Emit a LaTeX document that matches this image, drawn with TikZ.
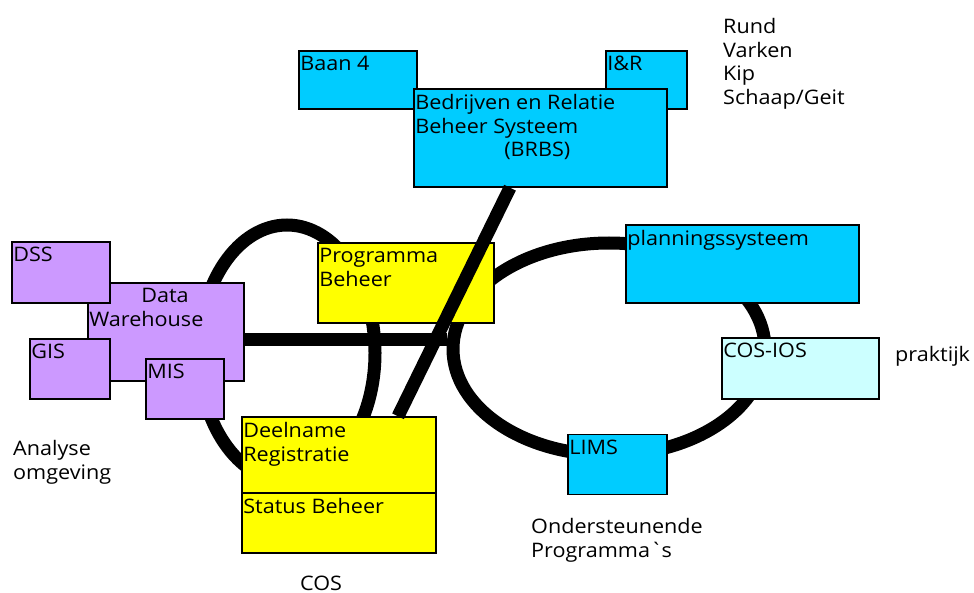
\documentclass[tikz,border=0pt]{standalone}
\usepackage{fontspec}
\setmainfont{Open Sans}[FakeStretch=1.08]
\usetikzlibrary{shapes.geometric}
\definecolor{brsblauw}{HTML}{00CCFF}
\definecolor{dwhpaars}{HTML}{CC99FF}
\definecolor{cosgeel}{HTML}{FFFF00}
\definecolor{iosblauw}{HTML}{CCFFFF}
\begin{document}
\begin{tikzpicture}[x=1pt,y=-1pt,
        every node/.style={font=\fontsize{20}{23.7}\selectfont},
        blok/.style={draw,line width=1.4pt,inner sep=0pt},
        lbl/.style={anchor=north west,align=left,inner xsep=2pt,inner ysep=6pt,outer sep=0pt},
        ring/.style={draw,ellipse,line width=13pt,inner sep=0pt},
        bus/.style={line width=13pt},
        tekst/.style={anchor=north west,align=left,inner sep=0pt},
        ]
    \useasboundingbox (0,0) rectangle (974,593);
    % de twee ringen
    \node (ringcos) [ring, minimum width=176, minimum height=256] at (287,353) {};
    \node (ringop) [ring, minimum width=312, minimum height=212] at (609,349) {};
    % BRBS
    \node (baan) [blok, fill=brsblauw, minimum width=118, minimum height=58, label={[lbl]north west:{Baan 4}}] at (358,80) {};
    \node (ir) [blok, fill=brsblauw, minimum width=81, minimum height=58, label={[lbl]north west:{I\&R}}] at (646.5,80) {};
    \node (brbs) [blok, fill=brsblauw, minimum width=253, minimum height=98,
        label={[lbl]north west:{Bedrijven en Relatie\\Beheer Systeem\\\hspace*{89pt}(BRBS)}}] at (540.5,138) {};
    % analyse omgeving
    \node (dwh) [blok, fill=dwhpaars, minimum width=156, minimum height=98,
        label={[lbl]north west:{\hspace*{52pt}Data\\Warehouse}}] at (166,332) {};
    \node (dss) [blok, fill=dwhpaars, minimum width=98, minimum height=61, label={[lbl]north west:{DSS}}] at (61,272.5) {};
    \node (gis) [blok, fill=dwhpaars, minimum width=80, minimum height=60, label={[lbl]north west:{GIS}}] at (70,369) {};
    \node (mis) [blok, fill=dwhpaars, minimum width=78, minimum height=60, label={[lbl]north west:{MIS}}] at (185,389) {};
    % COS
    \node (prog) [blok, fill=cosgeel, minimum width=176, minimum height=80,
        label={[lbl]north west:{Programma\\Beheer}}] at (406,283) {};
    \node (deel) [blok, fill=cosgeel, minimum width=194, minimum height=76,
        label={[lbl]north west:{Deelname\\Registratie}}] at (339,455) {};
    \node (status) [blok, fill=cosgeel, minimum width=194, minimum height=60,
        label={[lbl]north west:{Status Beheer}}] at (339,523) {};
    % ondersteunende programma's
    \node (plan) [blok, fill=brsblauw, minimum width=233, minimum height=78,
        label={[lbl]north west:{planningssysteem}}] at (742.5,264) {};
    \node (cosios) [blok, fill=iosblauw, minimum width=157, minimum height=61,
        label={[lbl]north west:{COS-IOS}}] at (800.5,368.5) {};
    \node (lims) [blok, fill=brsblauw, minimum width=99, minimum height=60,
        label={[lbl]north west:{LIMS}}] at (617.5,464.5) {};
    % verbindingen
    \draw[bus] (dwh.east |- 0,340) -- (ringop.west |- 0,340);
    \draw[bus] (brbs.south -| 510,0) -- (deel.north -| 398,0);
    % losse teksten
    \node (dieren) [tekst] at (723,18) {Rund\\Varken\\Kip\\Schaap/Geit};
    \node (praktijk) [anchor=base west, inner sep=0pt] at (895,361) {praktijk};
    \node (analyse) [tekst] at (13,440) {Analyse\\omgeving};
    \node (cos) [anchor=base west, inner sep=0pt] at (300,590) {COS};
    \node (onderst) [tekst] at (531,518) {Ondersteunende\\Programma\textasciigrave s};
\end{tikzpicture}
\end{document}
